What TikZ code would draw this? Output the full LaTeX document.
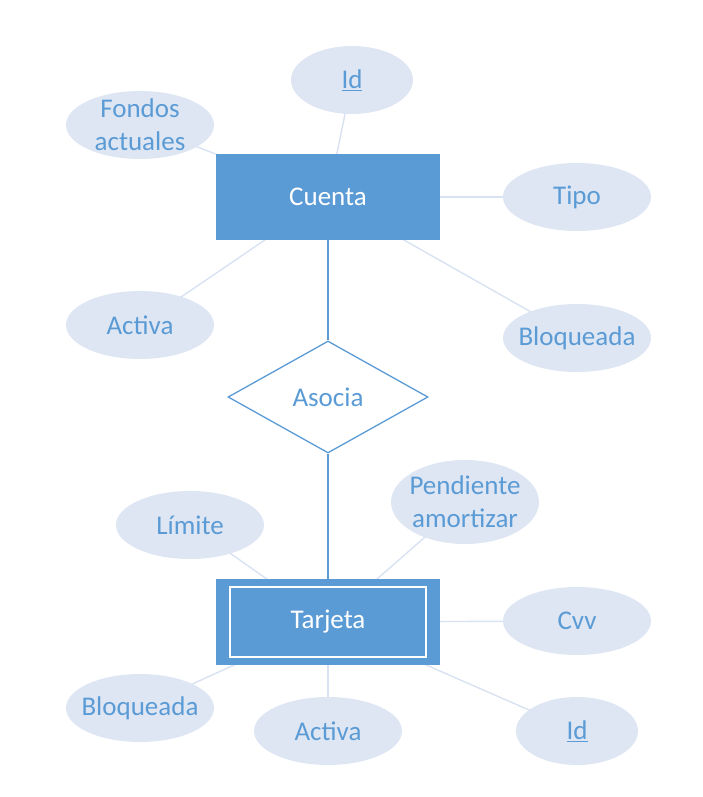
\documentclass[tikz,border=0pt]{standalone}
\usepackage{fontspec}
\setmainfont{Carlito}
\usetikzlibrary{shapes.geometric,backgrounds}
\definecolor{blu}{HTML}{5B9BD5}
\definecolor{attfill}{HTML}{DEE6F3}
\definecolor{attline}{HTML}{D9E2F2}
\tikzset{
  attr/.style={ellipse, fill=attfill, draw=none, inner xsep=-20pt, inner ysep=-4pt, minimum width=148pt, minimum height=68pt, text=blu, font=\fontsize{27}{33}\selectfont, align=center},
  ent/.style={rectangle, fill=blu, draw=none, minimum width=224pt, minimum height=86pt, text=white, font=\fontsize{27}{33}\selectfont},
  rel/.style={diamond, fill=white, draw=blu, line width=1.3pt, minimum width=200pt, minimum height=112pt, inner sep=0pt, aspect=1.78, text=blu, font=\fontsize{27}{33}\selectfont},
  attlink/.style={draw=attline, line width=1.4pt},
  rellink/.style={draw=blu, line width=1.3pt}
}
\begin{document}
\begin{tikzpicture}[x=1pt,y=-1pt]
\useasboundingbox (0,0) rectangle (702,797);
% entities
\node[ent] (cuenta) at (328,197) {Cuenta};
\node[ent] (tarjeta) at (328,622) {Tarjeta};
\draw[white, line width=1.4pt] (230,587) rectangle (426,657);
\node[rel] (asocia) at (328,397) {Asocia};
% attributes of Cuenta
\node[attr, minimum width=122pt] (id1) at (352,80) {\underline{Id}};
\node[attr] (fondos) at (140,125) {Fondos\\actuales};
\node[attr] (tipo) at (577,197) {Tipo};
\node[attr] (activa1) at (140,325) {Activa};
\node[attr] (bloq1) at (577,338) {Bloqueada};
% attributes of Tarjeta
\node[attr] (limite) at (190,525) {Límite};
\node[attr, minimum height=84pt] (pend) at (465,502) {Pendiente\\amortizar};
\node[attr] (cvv) at (577,621) {Cvv};
\node[attr] (bloq2) at (140,708) {Bloqueada};
\node[attr] (activa2) at (328,731) {Activa};
\node[attr, minimum width=122pt] (id2) at (577,731) {\underline{Id}};
\begin{scope}[on background layer]
\draw[attlink] (id1.center) -- (cuenta.center);
\draw[attlink] (fondos.center) -- (cuenta.center);
\draw[attlink] (tipo.center) -- (cuenta.center);
\draw[attlink] (activa1.center) -- (cuenta.center);
\draw[attlink] (bloq1.center) -- (cuenta.center);
\draw[attlink] (limite.center) -- (tarjeta.center);
\draw[attlink] (pend.center) -- (tarjeta.center);
\draw[attlink] (cvv.center) -- (tarjeta.center);
\draw[attlink] (bloq2.center) -- (tarjeta.center);
\draw[attlink] (activa2.center) -- (tarjeta.center);
\draw[attlink] (id2.center) -- (tarjeta.center);
\end{scope}
\draw[rellink] (cuenta.south) -- (asocia.north);
\draw[rellink] (asocia.south) -- (tarjeta.north);
\end{tikzpicture}
\end{document}
